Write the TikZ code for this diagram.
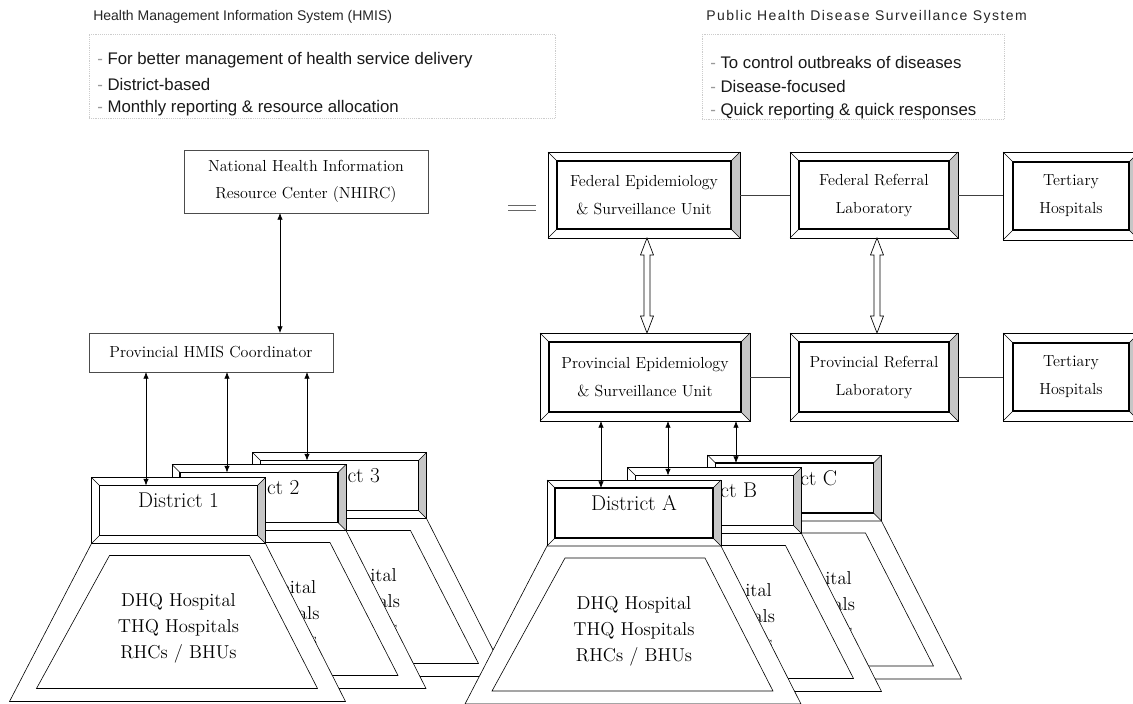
\documentclass[tikz,border=0pt]{standalone}
\usepackage{fontspec}
\usepackage{tikz}
\usetikzlibrary{calc,arrows.meta}
\newfontfamily\gothic{Liberation Sans}
\newfontfamily\gothicwide{Liberation Sans}[LetterSpace=10.5]

% box with a bevelled frame, shaded on the right
\newcommand{\bevelbox}[6]{%
  \node[bevelout, minimum width=#3*0.75pt, minimum height=#4*0.75pt] (#1) at (#2) {};
  \fill[gray!45] (#1.north east) -- ++(-#5,#5) -- ($(#1.south east)+(-#5,-#5)$) -- (#1.south east) -- cycle;
  \draw[line width=0.4pt] (#1.north west) -- ++(#5,#5) (#1.north east) -- ++(-#5,#5)
    (#1.south west) -- ++(#5,-#5) (#1.south east) -- ++(-#5,-#5);
  \node[bevelin, minimum width=(#3-2*#5)*0.75pt, minimum height=(#4-2*#5)*0.75pt] (#1-in) at (#2) {#6};
  \draw[line width=0.6pt] (#1.north west) rectangle (#1.south east);
}
% district: name box over a trapezium of facilities
\newcommand{\district}[3]{%
  \bevelbox{#1}{#2}{174}{66}{8}{}
  \node[distlabel] (#1-name) at ($(#1.north)+(0,23)$) {#3};
  \draw[trapline] (#1.south west) -- (#1.south east) -- ++(80,158) -- ($(#1.south west)+(-82,158)$) -- cycle;
  \draw[trapline] ($(#1.south west)+(18,12)$) -- ($(#1.south east)+(-16,12)$) -- ++(68,133) -- ($(#1.south west)+(-55,145)$) -- cycle;
  \node[hosptext] (#1-fac) at ($(#1.south)+(0,85)$) {DHQ Hospital\\THQ Hospitals\\RHCs / BHUs};
}
% hollow two-headed arrow between two boxes
\newcommand{\hollowdbl}[3]{%
  \draw[hollowarrow] (#1,0 |- #2.south) -- ++(6.5,17) -- ++(-3.5,0) -- ($(#1,0 |- #3.north)+(3,-17)$)
    -- ++(3.5,0) -- (#1,0 |- #3.north) -- ++(-6.5,-17) -- ++(3.5,0) -- ($(#1,0 |- #2.south)+(-3,17)$) -- ++(-3.5,0) -- cycle;
}

\begin{document}
\begin{tikzpicture}[x=0.75pt,y=0.75pt,yscale=-1,xscale=1,
  bevelout/.style={fill=white, inner sep=0pt, outer sep=0pt},
  bevelin/.style={draw, line width=0.9pt, inner sep=0pt, outer sep=0pt, align=center, font=\fontsize{12}{21}\selectfont},
  distlabel/.style={font=\fontsize{16}{18}\selectfont, inner sep=0pt},
  hosptext/.style={font=\fontsize{14}{19.5}\selectfont, align=center, inner sep=0pt},
  trapline/.style={draw, fill=white, line width=0.45pt},
  hollowarrow/.style={draw, fill=white, line width=0.5pt},
  thinarrow/.style={{Latex[length=5pt,width=4pt]}-{Latex[length=5pt,width=4pt]}, line width=0.5pt},
  plainbox/.style={draw=black!70, line width=0.5pt, inner sep=0pt, outer sep=0pt, align=center, font=\fontsize{12}{20}\selectfont},
  linkline/.style={line width=0.5pt, black!75},
  headline/.style={anchor=west, inner sep=0pt, text=black!85},
  listitem/.style={anchor=west, inner sep=0pt, text=black!90, font=\gothic\fontsize{12.6}{14}\selectfont},
  listbox/.style={draw=gray!40, densely dotted, inner sep=0pt, outer sep=0pt, anchor=north west}]
\clip (0,0) rectangle (1133,704);
\fill[white] (0,0) rectangle (1133,704);

% the two systems
\node[headline, font=\gothic\fontsize{10.5}{12}\selectfont] (hmistitle) at (93,17) {Health Management Information System (HMIS)};
\node[listbox, minimum width=466*0.75pt, minimum height=84*0.75pt] (hmisbox) at (89,34) {};
\node[listitem] (hmis1) at (97,60) {{\color{black!40}-}~For better management of health service delivery};
\node[listitem] (hmis2) at (97,84) {{\color{black!40}-}~District-based};
\node[listitem] (hmis3) at (97,108) {{\color{black!40}-}~Monthly reporting \& resource allocation};

\node[headline, font=\gothicwide\fontsize{10.5}{12}\selectfont] (pdsstitle) at (706,17) {Public Health Disease Surveillance System};
\node[listbox, minimum width=302*0.75pt, minimum height=85*0.75pt] (pdssbox) at (702,34) {};
\node[listitem] (pdss1) at (710,62) {{\color{black!40}-}~To control outbreaks of diseases};
\node[listitem] (pdss2) at (710,86) {{\color{black!40}-}~Disease-focused};
\node[listitem] (pdss3) at (710,111) {{\color{black!40}-}~Quick reporting \& quick responses};

% HMIS side
\node[plainbox, minimum width=244*0.75pt, minimum height=63*0.75pt] (nhirc) at (306,181.5) {National Health Information\\Resource Center (NHIRC)};
\node[plainbox, minimum width=244*0.75pt, minimum height=39*0.75pt] (hmiscoord) at (211,352.5) {Provincial HMIS Coordinator};
\draw[black!60, line width=0.5pt] (508,205) -- (536,205) (508,210) -- (536,210);

\district{d3}{339.5,485.5}{District 3}
\district{d2}{259,497.5}{District 2}
\district{d1}{178.5,510.5}{District 1}

% surveillance side
\district{dc}{794.5,488}{District C}
\district{db}{714.5,500.5}{District B}
\district{da}{634,513}{District A}

\bevelbox{fedepi}{644,195}{192}{86}{9}{Federal Epidemiology\\\& Surveillance Unit}
\bevelbox{fedlab}{874,195}{168}{86}{9}{Federal Referral\\Laboratory}
\bevelbox{tert1}{1071,196}{136}{88}{10}{Tertiary\\Hospitals}
\bevelbox{provepi}{645,377}{210}{88}{9}{Provincial Epidemiology\\\& Surveillance Unit}
\bevelbox{provlab}{874,377}{168}{88}{9}{Provincial Referral\\Laboratory}
\bevelbox{tert2}{1071,377}{136}{88}{10}{Tertiary\\Hospitals}

\draw[linkline] (fedepi) -- (fedlab);
\draw[linkline] (fedlab.east) -- (fedlab.east -| tert1.west);
\draw[linkline] (provepi) -- (provlab);
\draw[linkline] (provlab.east) -- (provlab.east -| tert2.west);
\hollowdbl{647}{fedepi}{provepi}
\hollowdbl{877}{fedlab}{provlab}

% reporting lines
\draw[thinarrow] (280,0 |- nhirc.south) -- (280,0 |- hmiscoord.north);
\draw[thinarrow] (146,0 |- hmiscoord.south) -- (146,0 |- d1-in.north);
\draw[thinarrow] (227,0 |- hmiscoord.south) -- (227,0 |- d2-in.north);
\draw[thinarrow] (307,0 |- hmiscoord.south) -- (307,0 |- d3-in.north);
\draw[thinarrow] (601,0 |- provepi.south) -- (601,0 |- da-in.north);
\draw[thinarrow] (668,0 |- provepi.south) -- (668,0 |- db-in.north);
\draw[thinarrow] (736,0 |- provepi.south) -- (736,0 |- dc-in.north);
\end{tikzpicture}
\end{document}
